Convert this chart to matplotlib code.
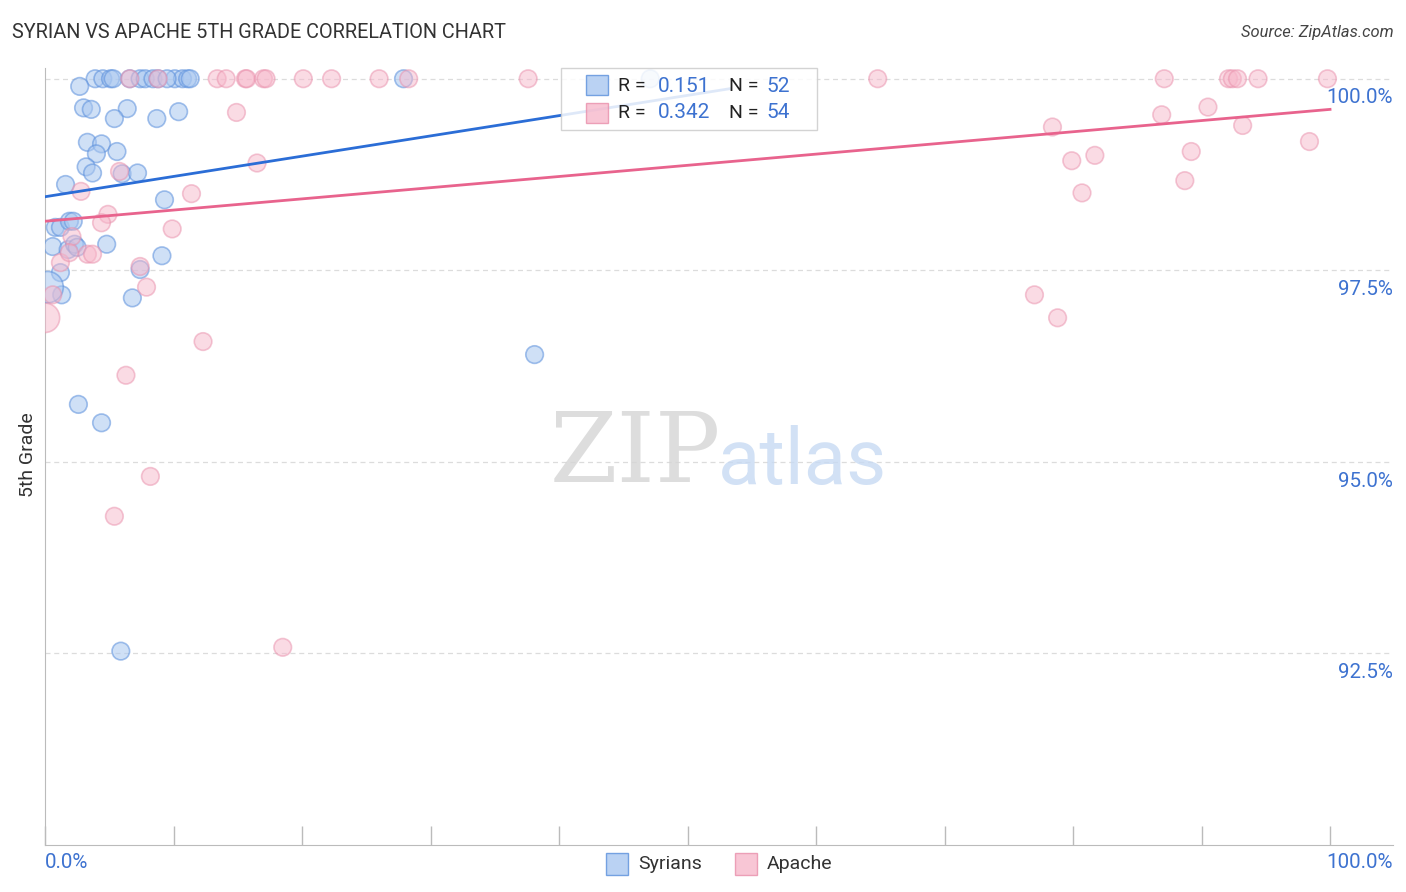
import matplotlib.pyplot as plt
import matplotlib.transforms as mtransforms
from matplotlib.patches import Rectangle
import numpy as np

plt.rcParams['font.family'] = ['Roboto', 'DejaVu Sans']

# values (x = Syrian %, y = 5th grade %)
syrian_x = [3.9, 4.5, 5.1, 5.3, 6.6, 7.4, 7.8, 8.4, 8.8, 10.1, 10.7, 11.1, 11.3, 27.9, 47.1,
            2.7, 3.0, 3.6, 6.4, 5.4, 8.7, 10.4, 3.3, 4.4, 4.0, 5.6, 3.2, 3.7, 6.0, 7.2,
            1.6, 9.3, 0.8, 1.2, 1.9, 2.2, 0.6, 1.8, 2.3, 2.5, 4.8, 9.1, 1.2, 7.4, 6.8,
            1.3, 0.2, 2.6, 4.4, 5.9, 38.1, 9.5]
syrian_y = [100.0, 100.0, 100.0, 100.0, 100.0, 100.0, 100.0, 100.0, 100.0, 100.0, 100.0, 100.0, 100.0, 100.0, 100.0,
            99.90, 99.62, 99.60, 99.61, 99.48, 99.48, 99.57, 99.17, 99.15, 99.02, 99.05, 98.85, 98.77, 98.76, 98.77,
            98.62, 98.42, 98.06, 98.06, 98.14, 98.14, 97.81, 97.77, 97.84, 97.80, 97.84, 97.69, 97.47, 97.51, 97.14,
            97.18, 97.28, 95.75, 95.51, 92.53, 96.40, 100.0]
syrian_size = [1] * 46 + [3.2] + [1] * 5

apache_x = [6.6, 8.8, 13.4, 14.1, 15.6, 15.7, 17.0, 17.2, 20.1, 22.3, 26.0, 28.3, 37.6, 64.8,
            87.1, 92.1, 92.4, 92.8, 94.4, 99.8,
            14.9, 16.5, 2.8, 11.4, 5.8, 4.9, 4.4, 9.9, 2.1, 3.3, 3.7, 1.2, 7.4, 7.9, 0.6,
            0.0, 12.3, 6.3, 8.2, 5.4, 18.5,
            78.4, 79.9, 81.7, 80.7, 86.9, 90.5, 89.2, 88.7, 93.2, 98.4, 77.0, 78.8, 1.9]
apache_y = [100.0, 100.0, 100.0, 100.0, 100.0, 100.0, 100.0, 100.0, 100.0, 100.0, 100.0, 100.0, 100.0, 100.0,
            100.0, 100.0, 100.0, 100.0, 100.0, 100.0,
            99.56, 98.90, 98.53, 98.50, 98.79, 98.23, 98.12, 98.04, 97.94, 97.71, 97.71, 97.60, 97.55, 97.28, 97.18,
            96.88, 96.57, 96.13, 94.81, 94.29, 92.58,
            99.37, 98.93, 99.00, 98.51, 99.53, 99.63, 99.05, 98.67, 99.39, 99.18, 97.18, 96.88, 97.73]
apache_size = [1] * 35 + [2.8] + [1] * 18

# trend lines (start/end values)
syrian_trend = ([0.0, 53.3], [98.46, 99.87])
apache_trend = ([0.0, 100.0], [98.14, 99.60])

y_ticks = [100.0, 97.5, 95.0, 92.5]
y_tick_labels = ['100.0%', '97.5%', '95.0%', '92.5%']

blue_face = '#a9c7f0'
blue_edge = '#5a8fdc'
blue_line = '#2b6dd6'
pink_face = '#f7b8cb'
pink_edge = '#e98fab'
pink_line = '#e8638d'
label_blue = '#3d72d0'

fig = plt.figure(figsize=(14.06, 8.92), dpi=100)
ax = fig.add_axes([45 / 1406, 47 / 892, 1348 / 1406, 777 / 892])

base = 160
ax.scatter(syrian_x, syrian_y, s=[base * v for v in syrian_size], facecolor=blue_face,
           edgecolor=blue_edge, linewidth=1.2, alpha=0.55, zorder=3)
ax.scatter(apache_x, apache_y, s=[base * v for v in apache_size], facecolor=pink_face,
           edgecolor=pink_edge, linewidth=1.2, alpha=0.5, zorder=3)

ax.plot(*syrian_trend, color=blue_line, linewidth=2, zorder=4)
ax.plot(*apache_trend, color=pink_line, linewidth=2, zorder=4)

ax.set_xlim(0, 104.9)
ax.set_ylim(90.0, 100.14)

for yv in y_ticks:
    ax.axhline(yv, color='#dcdcdc', linestyle=(0, (4, 3)), linewidth=0.9, zorder=1)

ax.set_yticks([])
ax.set_xticks(np.arange(0, 101, 10))
ax.set_xticklabels([])
ax.tick_params(axis='x', direction='in', length=14, color='#bbbbbb', width=1)

for side in ['top', 'right']:
    ax.spines[side].set_visible(False)
for side in ['left', 'bottom']:
    ax.spines[side].set_color('#bbbbbb')

# right-side y labels, just below the gridlines
trans = mtransforms.blended_transform_factory(ax.transAxes, ax.transData)
for yv, lab in zip(y_ticks, y_tick_labels):
    ax.annotate(lab, xy=(1.0, yv), xycoords=trans, xytext=(0, -7), textcoords='offset points',
                ha='right', va='top', fontsize=14.8, color=label_blue)

fig.text(45 / 1406, 1 - 863 / 892, '0.0%', ha='left', va='center', fontsize=14.8, color=label_blue)
fig.text(1393 / 1406, 1 - 863 / 892, '100.0%', ha='right', va='center', fontsize=14.8, color=label_blue)

fig.text(28 / 1406, 1 - 455 / 892, '5th Grade', rotation=90, ha='center', va='center',
         fontsize=14, color='#333333')

fig.text(12 / 1406, 1 - 33 / 892, 'SYRIAN VS APACHE 5TH GRADE CORRELATION CHART', ha='left',
         va='center', fontsize=14.3, color='#333333')
fig.text(1394 / 1406, 1 - 33 / 892, 'Source: ZipAtlas.com', ha='right', va='center',
         fontsize=11.9, color='#444444', style='italic')

# watermark
fig.text(635 / 1406, 1 - 455 / 892, 'ZIP', ha='center', va='center', fontsize=70,
         family='DejaVu Serif', color='#d5d5d5', alpha=0.8, zorder=0)
fig.text(802 / 1406, 1 - 462 / 892, 'atlas', ha='center', va='center', fontsize=56,
         color='#c7daf3', alpha=0.8, zorder=0)

# top legend box
ax_box = fig.add_axes([0, 0, 1, 1], facecolor='none')
ax_box.set_xlim(0, 1406)
ax_box.set_ylim(892, 0)
ax_box.axis('off')
ax_box.add_patch(Rectangle((561, 68), 256, 62, facecolor='white', edgecolor='#cccccc',
                           linewidth=1, alpha=0.85))
ax_box.add_patch(Rectangle((586, 75), 22, 20, facecolor=blue_face, edgecolor=blue_edge,
                           linewidth=1, alpha=0.8))
ax_box.add_patch(Rectangle((586, 103), 22, 20, facecolor=pink_face, edgecolor=pink_edge,
                           linewidth=1, alpha=0.8))
for yy, r, n in [(86, '0.151', '52'), (113, '0.342', '54')]:
    ax_box.text(618, yy, 'R =', ha='left', va='center', fontsize=14, color='#222222')
    ax_box.text(710, yy, r, ha='right', va='center', fontsize=15, color=label_blue)
    ax_box.text(729, yy, 'N =', ha='left', va='center', fontsize=14, color='#222222')
    ax_box.text(766, yy, n, ha='left', va='center', fontsize=15, color=label_blue)

# bottom legend
ax_box.add_patch(Rectangle((606, 853), 22, 22, facecolor=blue_face, edgecolor=blue_edge,
                           linewidth=1, alpha=0.8))
ax_box.text(638, 864, 'Syrians', ha='left', va='center', fontsize=14, color='#333333')
ax_box.add_patch(Rectangle((735, 853), 22, 22, facecolor=pink_face, edgecolor=pink_edge,
                           linewidth=1, alpha=0.8))
ax_box.text(767, 864, 'Apache', ha='left', va='center', fontsize=14, color='#333333')

fig.savefig('out.png', dpi=100)
